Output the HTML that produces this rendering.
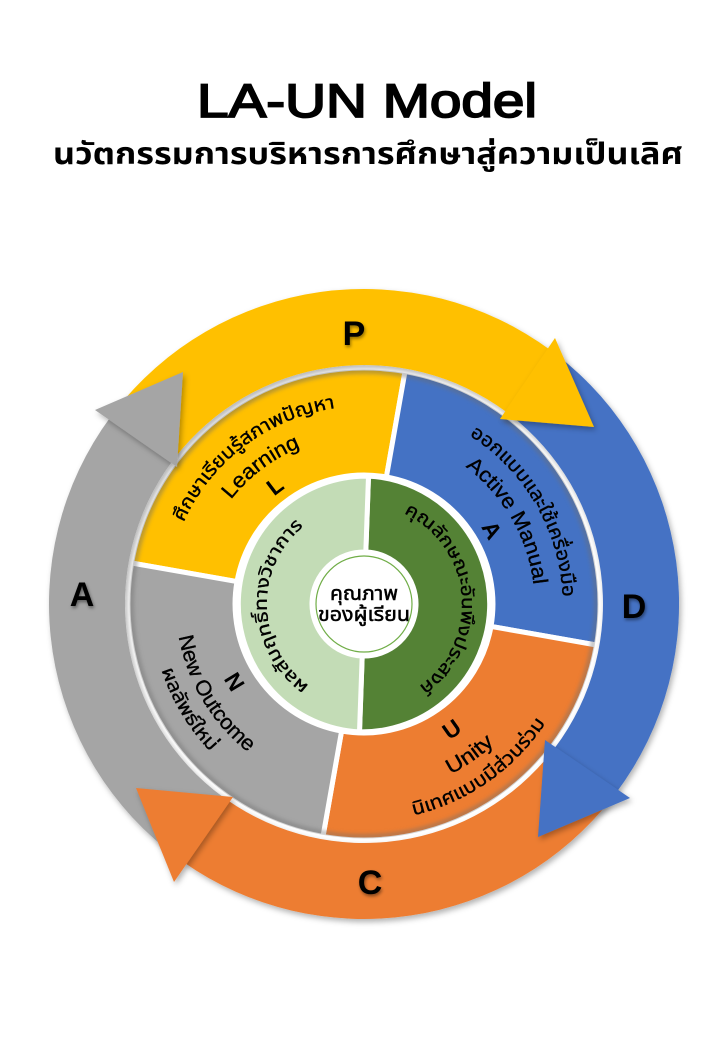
<!DOCTYPE html>
<html>
<head>
<meta charset="utf-8">
<style>
  html, body { margin:0; padding:0; background:#fff; }
  body { width:720px; height:1040px; overflow:hidden; }
  svg { display:block; }
  .t { font-family: "Liberation Sans", "Noto Sans Thai", "Noto Sans Thai UI", "Loma", "Garuda", "Tlwg Typist", "DejaVu Sans", sans-serif; fill:#000; }
  .s { stroke:#000; stroke-width:0.35; }
</style>
</head>
<body>
<svg width="720" height="1040" viewBox="0 0 720 1040" xmlns="http://www.w3.org/2000/svg">
  <defs>
    <filter id="sh" x="-20%" y="-20%" width="140%" height="140%">
      <feDropShadow dx="2" dy="3" stdDeviation="3" flood-color="#000" flood-opacity="0.3"/>
    </filter>
    <filter id="ts" x="-30%" y="-30%" width="160%" height="160%">
      <feDropShadow dx="1" dy="2" stdDeviation="1.5" flood-color="#000" flood-opacity="0.45"/>
    </filter>
    <filter id="bl" x="-10%" y="-10%" width="120%" height="120%">
      <feGaussianBlur stdDeviation="2"/>
    </filter>

    <path id="y1" d="M205.9 723.2 A198 198 0 0 1 522.1 484.8"/>
    <path id="y2" d="M229.0 705.7 A169 169 0 0 1 499.0 502.3"/>
    <path id="y3" d="M252.2 688.3 A140 140 0 0 1 475.8 519.7"/>
    <path id="b1" d="M263 429.1 A202 202 0 0 1 465 778.9"/>
    <path id="b2" d="M277.5 454.2 A173 173 0 0 1 450.5 753.8"/>
    <path id="b3" d="M292.5 480.2 A143 143 0 0 1 435.5 727.8"/>
    <path id="o1" d="M186.2 728.5 A217 217 0 0 0 541.8 479.5"/>
    <path id="o2" d="M207.5 713.6 A191 191 0 0 0 520.5 494.4"/>
    <path id="o3" d="M230.5 697.5 A163 163 0 0 0 497.5 510.5"/>
    <path id="g1" d="M253.3 419.7 A215 215 0 0 0 474.7 788.3"/>
    <path id="g2" d="M267.2 442.8 A188 188 0 0 0 460.8 765.2"/>
    <path id="g3" d="M282.1 467.7 A159 159 0 0 0 445.9 740.3"/>
    <path id="lg" d="M367.5 703.9 A100 100 0 0 1 360.5 504.1"/>
    <path id="dg" d="M355.3 504.4 A100 100 0 0 1 372.7 703.6"/>
  </defs>

  <!-- Title -->
  <text class="t" x="367" y="117" text-anchor="middle" font-size="47" textLength="340" lengthAdjust="spacingAndGlyphs" stroke="#000" stroke-width="1.8">LA-UN Model</text>
  <text class="t" x="368" y="164" text-anchor="middle" font-size="30" font-weight="bold" textLength="630" lengthAdjust="spacingAndGlyphs">นวัตกรรมการบริหารการศึกษาสู่ความเป็นเลิศ</text>

  <!-- Quadrants -->
  <g stroke="#fff" stroke-width="5" stroke-linejoin="miter">
    <path fill="#FFC000" d="M131.6 563.0 A236 236 0 0 1 405.0 371.6 L386.4 477.0 A129 129 0 0 0 237.0 581.6 Z"/>
    <path fill="#4472C4" d="M405.0 371.6 A236 236 0 0 1 596.4 645.0 L491.0 626.4 A129 129 0 0 0 386.4 477.0 Z"/>
    <path fill="#ED7D31" d="M596.4 645.0 A236 236 0 0 1 323.0 836.4 L341.6 731.0 A129 129 0 0 0 491.0 626.4 Z"/>
    <path fill="#A5A5A5" d="M323.0 836.4 A236 236 0 0 1 131.6 563.0 L237.0 581.6 A129 129 0 0 0 341.6 731.0 Z"/>
  </g>

  <circle cx="364" cy="604" r="232.5" fill="none" stroke="#6f6f6f" stroke-width="4" opacity="0.55" filter="url(#bl)"/>
  <circle cx="364" cy="604" r="237.5" fill="none" stroke="#fff" stroke-width="6"/>

  <!-- Middle ring -->
  <g stroke="#fff" stroke-width="5">
    <path fill="#548235" d="M368.5 476.1 A128 128 0 0 1 359.5 731.9 L362.2 656.0 A52 52 0 0 0 365.8 552.0 Z"/>
    <path fill="#C3DCB6" d="M359.5 731.9 A128 128 0 0 1 368.5 476.1 L365.8 552.0 A52 52 0 0 0 362.2 656.0 Z"/>
  </g>
  <circle cx="364" cy="604" r="52" fill="#fff"/>
  <circle cx="364" cy="604" r="48" fill="#fff" stroke="#70AD47" stroke-width="1.2"/>

  <!-- Outer bands -->
  <g filter="url(#sh)">
    <path fill="#A5A5A5" d="M178.8 858.8 A315 315 0 0 1 110.8 416.6 L171.9 461.8 A239 239 0 0 0 223.5 797.4 Z"/>
    <path fill="#FFC000" d="M114.1 412.2 A315 315 0 0 1 551.4 350.8 L506.2 411.9 A239 239 0 0 0 174.4 458.5 Z"/>
    <path fill="#4472C4" d="M555.8 354.1 A315 315 0 0 1 615.6 793.6 L554.9 747.8 A239 239 0 0 0 509.5 414.4 Z"/>
    <path fill="#ED7D31" d="M612.2 797.9 A315 315 0 0 1 183.3 862.0 L226.9 799.8 A239 239 0 0 0 552.3 751.2 Z"/>
  </g>
  <g filter="url(#sh)">
    <polygon fill="#A5A5A5" points="95,410 177,467 183,372"/>
    <polygon fill="#FFC000" points="555,338 500,419 594,427"/>
    <polygon fill="#4472C4" points="545,740 630,798 538,837"/>
    <polygon fill="#ED7D31" points="233,797 174,882 136,788"/>
  </g>

  <!-- PDCA letters -->
  <g font-size="34" font-weight="bold" text-anchor="middle" filter="url(#ts)">
    <text class="t" x="354" y="345">P</text>
    <text class="t" x="634" y="618">D</text>
    <text class="t" x="370" y="894">C</text>
    <text class="t" x="82" y="606">A</text>
  </g>

  <!-- Yellow quadrant text -->
  <text class="t s" font-size="19" text-anchor="middle"><textPath href="#y1" startOffset="50%" textLength="198" lengthAdjust="spacingAndGlyphs">ศึกษาเรียนรู้สภาพปัญหา</textPath></text>
  <text class="t s" font-size="21" text-anchor="middle"><textPath href="#y2" startOffset="50%" textLength="88" lengthAdjust="spacingAndGlyphs">Learning</textPath></text>
  <text class="t" font-size="23" font-weight="bold" text-anchor="middle"><textPath href="#y3" startOffset="50%">L</textPath></text>

  <!-- Blue quadrant text -->
  <text class="t s" font-size="19" text-anchor="middle"><textPath href="#b1" startOffset="50%" textLength="194" lengthAdjust="spacingAndGlyphs">ออกแบบและใช้เครื่องมือ</textPath></text>
  <text class="t s" font-size="21" text-anchor="middle"><textPath href="#b2" startOffset="50%" textLength="140" lengthAdjust="spacingAndGlyphs">Active Manual</textPath></text>
  <text class="t" font-size="23" font-weight="bold" text-anchor="middle"><textPath href="#b3" startOffset="50%">A</textPath></text>

  <!-- Orange quadrant text -->
  <text class="t s" font-size="19" text-anchor="middle"><textPath href="#o1" startOffset="50%" textLength="165" lengthAdjust="spacingAndGlyphs">นิเทศแบบมีส่วนร่วม</textPath></text>
  <text class="t s" font-size="21" text-anchor="middle"><textPath href="#o2" startOffset="50%" textLength="54" lengthAdjust="spacingAndGlyphs">Unity</textPath></text>
  <text class="t" font-size="23" font-weight="bold" text-anchor="middle"><textPath href="#o3" startOffset="50%">U</textPath></text>

  <!-- Gray quadrant text -->
  <text class="t s" font-size="19" text-anchor="middle"><textPath href="#g1" startOffset="50%" textLength="96" lengthAdjust="spacingAndGlyphs">ผลลัพธ์ใหม่</textPath></text>
  <text class="t s" font-size="21" text-anchor="middle"><textPath href="#g2" startOffset="50%" textLength="138" lengthAdjust="spacingAndGlyphs">New Outcome</textPath></text>
  <text class="t" font-size="23" font-weight="bold" text-anchor="middle"><textPath href="#g3" startOffset="50%">N</textPath></text>

  <!-- Middle ring text -->
  <text class="t s" font-size="18" text-anchor="middle"><textPath href="#lg" startOffset="50%" textLength="184" lengthAdjust="spacingAndGlyphs">ผลสัมฤทธิ์ทางวิชาการ</textPath></text>
  <text class="t s" font-size="18" text-anchor="middle"><textPath href="#dg" startOffset="50%" textLength="210" lengthAdjust="spacingAndGlyphs">คุณลักษณะอันพึงประสงค์</textPath></text>

  <!-- Center text -->
  <text class="t" x="364" y="600" text-anchor="middle" font-size="20" stroke="#000" stroke-width="0.5" textLength="68" lengthAdjust="spacingAndGlyphs">คุณภาพ</text>
  <text class="t" x="364" y="621" text-anchor="middle" font-size="20" stroke="#000" stroke-width="0.5" textLength="92" lengthAdjust="spacingAndGlyphs">ของผู้เรียน</text>
</svg>
</body>
</html>
